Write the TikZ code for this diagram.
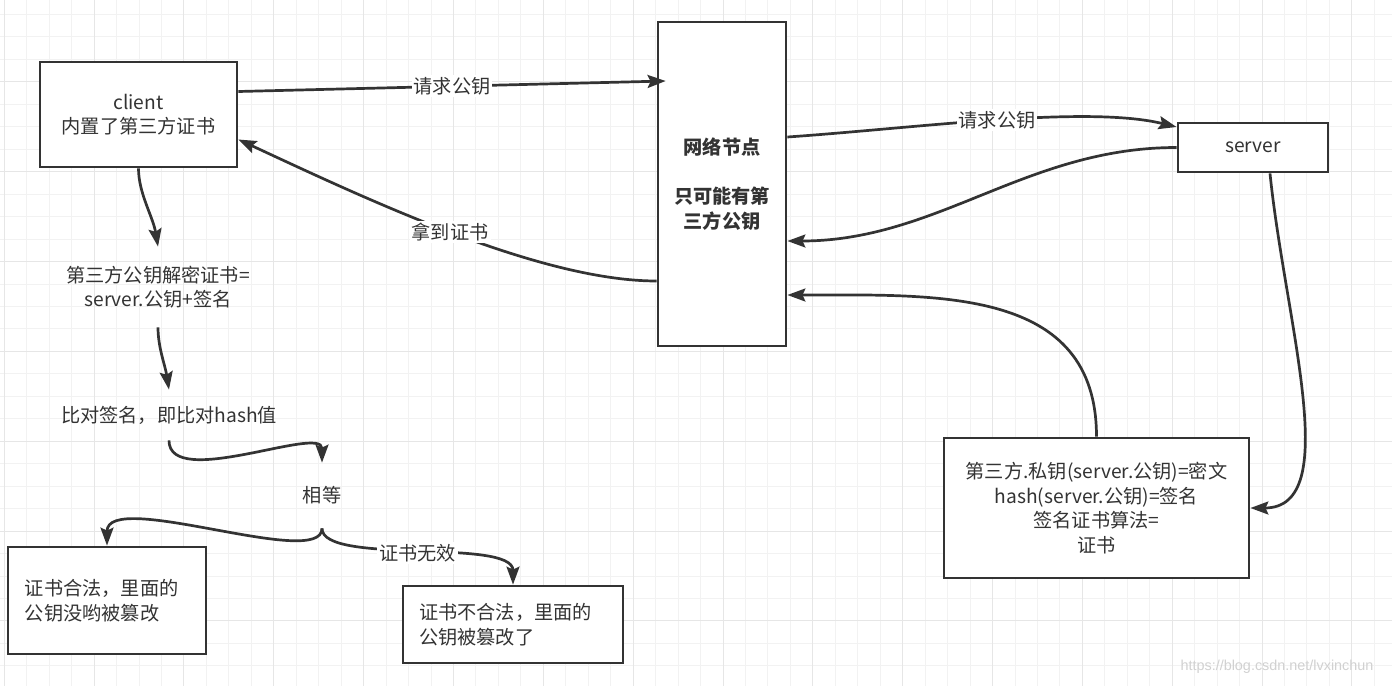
\documentclass[tikz,border=0pt]{standalone}
\usepackage{fontspec}
\setmainfont{Noto Sans CJK SC}
\newfontfamily\markfont{Liberation Sans}
\usetikzlibrary{arrows.meta}
\usetikzlibrary{positioning}

\definecolor{ink}{HTML}{333333}
\definecolor{gridminor}{HTML}{F2F2F2}
\definecolor{gridmajor}{HTML}{E6E6E6}

\begin{document}
\begin{tikzpicture}[x=0.5pt, y=-0.5pt, font=\fontsize{9.6pt}{12.3pt}\selectfont, text=ink,
box/.style={draw=ink, line width=1.4pt, fill=white, inner sep=0pt, align=center},
leftbox/.style={box, align=left, inner xsep=8pt},
txt/.style={align=center, inner sep=0pt},
lbl/.style={fill=white, inner sep=1pt},
arr/.style={draw=ink, line width=1.35pt, -{Stealth[length=9pt, width=6.5pt, inset=1.5pt]}}]

\useasboundingbox (0,0) rectangle (1392,686);
\fill[white] (0,0) rectangle (1392,686);

% grid
\foreach \k in {0,...,61} \draw[gridminor, line width=0.5pt] ({4.3+22.46*\k},0) -- ++(0,686);
\foreach \k in {0,...,30} \draw[gridminor, line width=0.5pt] (0,{14.5+22.46*\k}) -- ++(1392,0);
\foreach \k in {0,4,...,60} \draw[gridmajor, line width=0.5pt] ({4.3+22.46*\k},0) -- ++(0,686);
\foreach \k in {3,7,...,30} \draw[gridmajor, line width=0.5pt] (0,{14.5+22.46*\k}) -- ++(1392,0);

% boxes
\node[box, minimum width=98.5pt, minimum height=52.5pt] (client) at (138.5,114.5) {client\\内置了第三方证书};
\node[box, minimum width=64pt, minimum height=162pt, font=\fontsize{9.6pt}{12.3pt}\selectfont\bfseries] (netnode) at (722,184) {网络节点\\\mbox{}\\只可能有第\\三方公钥};
\node[box, minimum width=75pt, minimum height=24.5pt] (server) at (1253,147.5) {server};
\node[box, minimum width=152.5pt, minimum height=70pt] (cert) at (1096.5,508) {第三方.私钥(server.公钥)=密文\\hash(server.公钥)=签名\\签名证书算法=\\证书};
\node[leftbox, text width=82pt, inner xsep=8.5pt, minimum height=53.5pt] (valid) at (107,600.5) {证书合法，里面的\\公钥没哟被篡改};
\node[leftbox, text width=94pt, minimum height=38.5pt] (invalid) at (513,624.5) {证书不合法，里面的\\公钥被篡改了};

% plain texts
\node[txt, minimum height=40pt] (decrypt) at (158,287) {第三方公钥解密证书=\\server.公钥+签名};
\node[txt, minimum height=25pt] (compare) at (169,415) {比对签名，即比对hash值};
\node[txt, minimum height=32.5pt] (equal) at (322,495.5) {相等};

% connectors
\draw[arr] ([yshift=11.5pt]client.east) -- node[lbl] {请求公钥} ([xshift=4.5pt,yshift=51.5pt]netnode.west);
\draw[arr] ([yshift=23.5pt]netnode.east) .. controls +(130,-9) and +(-90,-22) .. ([yshift=10.25pt]server.west) node[lbl, pos=0.5] {请求公钥};
\draw[arr] (server.west) .. controls +(-150,0) and +(150,0) .. ([yshift=-28.5pt]netnode.east);
\draw[arr] ([yshift=-48.5pt]netnode.west) .. controls +(-118,0) and +(125,58) .. ([yshift=-12.5pt]client.east) node[lbl, pos=0.5] {拿到证书};
\draw[arr] (cert.north) .. controls +(0,-150) and +(150,0) .. ([yshift=-55.5pt]netnode.east);
\draw[arr] ([xshift=8.5pt]server.south) .. controls +(15,148) and +(94,0) .. (cert.east);

\draw[arr] (client.south) .. controls +(0,25) and +(-5,-30) .. (decrypt.north);
\draw[arr] (decrypt.south) .. controls +(0,20) and +(-4,-25) .. (compare.north);
\draw[arr] (compare.south) .. controls +(0,50) and +(0,-38) .. (equal.north);
\draw[arr] (equal.south) .. controls +(0,42) and +(0,-57) .. (valid.north);
\draw[arr] (equal.south) .. controls +(0,37) and +(0,-47) .. (invalid.north) node[lbl, pos=0.5] {证书无效};

\node[text=black!18, font=\markfont\fontsize{7.2pt}{8pt}\selectfont] (mark) at (1277,667) {https://blog.csdn.net/lvxinchun};
\end{tikzpicture}
\end{document}
